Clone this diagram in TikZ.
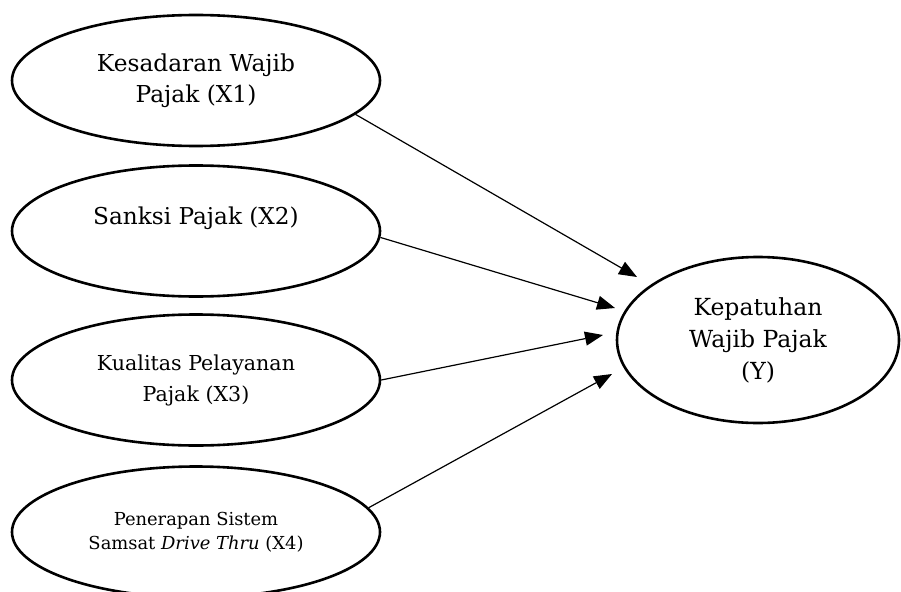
\documentclass[tikz,border=0pt]{standalone}
\usepackage{fontspec}
\setmainfont{DejaVu Serif}
\usetikzlibrary{shapes.geometric,arrows.meta}
\tikzset{
  konstruk/.style={draw, ellipse, line width=2.6pt, inner sep=0pt, align=center,
    minimum width=368pt, minimum height=131pt},
  pengaruh/.style={line width=1.2pt, -{Triangle[length=18pt,width=14pt]}}
}

\begin{document}
\begin{tikzpicture}[x=1pt,y=-1pt]
		%%%%% START %%%%%
		\useasboundingbox (0,0) rectangle (901,591);
		
		\node[konstruk, font=\fontsize{23.3}{31}\selectfont] (x1) at (196,80.5) {Kesadaran Wajib\\Pajak (X1)};
		\node[konstruk, font=\fontsize{23.2}{30}\selectfont] (x2) at (196,231) {Sanksi Pajak (X2)\\\mbox{}};
		\node[konstruk, font=\fontsize{20.6}{31}\selectfont] (x3) at (196,380) {Kualitas Pelayanan\\Pajak (X3)};
		\node[konstruk, font=\fontsize{17.9}{24.5}\selectfont] (x4) at (196,532) {Penerapan Sistem\\Samsat \textit{Drive Thru} (X4)};
		
		\node[konstruk, minimum width=282pt, minimum height=166pt,
		  font=\fontsize{23.5}{32}\selectfont] (y) at (758,340) {Kepatuhan\\Wajib Pajak\\(Y)};
		
		\coordinate (t1) at (637,277);
		\coordinate (t2) at (615,308);
		\coordinate (t3) at (603,335);
		\coordinate (t4) at (612,374);
		
		\draw[pengaruh] (x1.-12) -- (t1);
		\draw[pengaruh] (x2.-2.5) -- (t2);
		\draw[pengaruh] (x3.east) -- (t3);
		\draw[pengaruh] (x4.8) -- (t4);
		
		%%%%% END %%%%%
\end{tikzpicture}
\end{document}
